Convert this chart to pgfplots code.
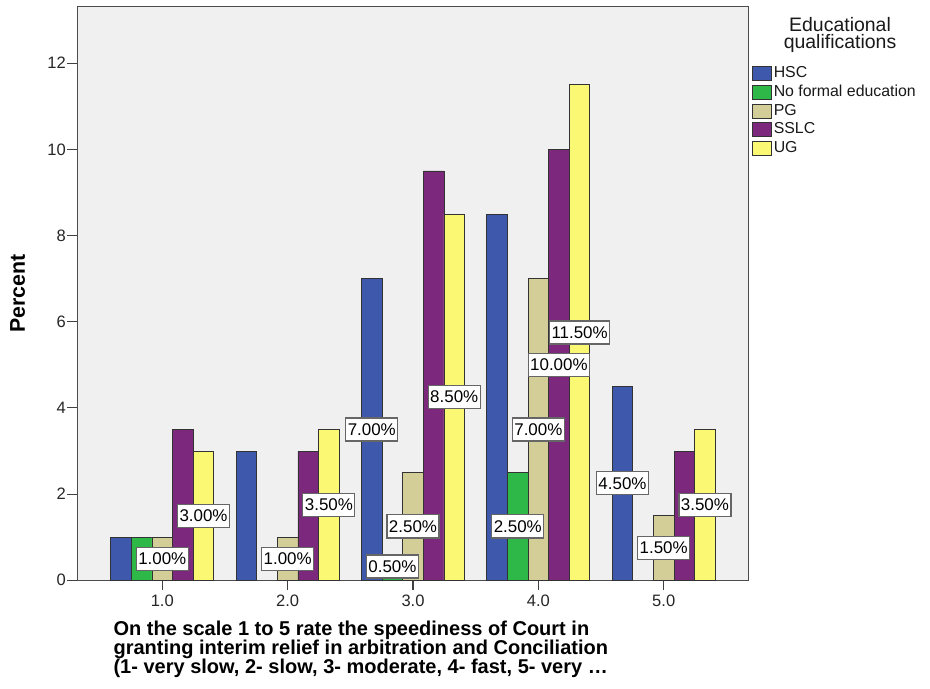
\documentclass[border=0pt]{standalone}
\usepackage{fontspec}
\setmainfont{Liberation Sans}
\usepackage{pgfplots}
\pgfplotsset{compat=1.18}

\definecolor{cHSC}{HTML}{3E58AC}
\definecolor{cNone}{HTML}{2EB848}
\definecolor{cPG}{HTML}{D3CE97}
\definecolor{cSSLC}{HTML}{7C287D}
\definecolor{cUG}{HTML}{FBF873}
\definecolor{bgGray}{HTML}{F0F0F0}

\pgfplotsset{
  spssbar/.style={ybar, bar width=0.1644, bar shift=#1, draw=black!80, line width=0.6pt,
    legend image code/.code={\draw[##1] (0pt,-5.25pt) rectangle (14.25pt,5.25pt);}},
}

\begin{document}
\begin{tikzpicture}
\begin{axis}[
    name=main,
    scale only axis,
    width=503.55pt, height=430.5pt,
    xmin=0.322, xmax=5.678,
    ymin=0, ymax=13.32,
    xtick={1,2,3,4,5},
    xticklabels={1.0,2.0,3.0,4.0,5.0},
    ytick={0,2,4,6,8,10,12},
    /pgf/number format/assume math mode=true,
    tick pos=left,
    tick align=outside,
    major tick length=7.5pt,
    tick style={black!75, line width=0.8pt},
    axis line style={black!70, line width=1pt},
    axis background/.style={fill=bgGray},
    ticklabel style={font=\fontsize{12.4}{14}\selectfont, text=black!85},
    yticklabel style={inner sep=1pt},
    ylabel={\bfseries Percent},
    ylabel style={at={(axis description cs:-0.089,0.5)}, anchor=center, inner sep=0pt,
      font=\fontsize{16}{18}\selectfont},
    xlabel={On the scale 1 to 5 rate the speediness of Court in\\granting interim relief in arbitration and Conciliation\\(1- very slow, 2- slow, 3- moderate, 4- fast, 5- very \dots},
    xlabel style={at={(axis description cs:0,0)}, anchor=north west, xshift=27pt, yshift=-30.5pt,
      align=left, inner sep=0pt, font=\bfseries\fontsize{15}{14.25}\selectfont},
    legend style={at={(1,1)}, anchor=north west, xshift=2.25pt, yshift=-43.5pt,
      draw=none, fill=none, inner sep=0pt, row sep=0pt, column sep=1.5pt,
      font=\fontsize{11.9}{13}\selectfont, text=black!90,
      nodes={inner sep=0pt, text height=10pt, text depth=4pt}},
    legend cell align=left,
]

% HSC
\addplot[spssbar=-0.3288, fill=cHSC]
  coordinates {(1,1) (2,3) (3,7) (4,8.5) (5,4.5)};
\addlegendentry{HSC}

% No formal education
\addplot[spssbar=-0.1644, fill=cNone]
  coordinates {(1,1) (3,0.5) (4,2.5)};
\addlegendentry{No formal education}

% PG
\addplot[spssbar=0, fill=cPG]
  coordinates {(1,1) (2,1) (3,2.5) (4,7) (5,1.5)};
\addlegendentry{PG}

% SSLC
\addplot[spssbar=0.1644, fill=cSSLC]
  coordinates {(1,3.5) (2,3) (3,9.5) (4,10) (5,3)};
\addlegendentry{SSLC}

% UG
\addplot[spssbar=0.3288, fill=cUG]
  coordinates {(1,3) (2,3.5) (3,8.5) (4,11.5) (5,3.5)};
\addlegendentry{UG}

% data labels, set at half the bar height like SPSS does
\addplot[forget plot, draw=none, mark=none, point meta=explicit symbolic,
  nodes near coords={\pgfplotspointmeta\%},
  every node near coord/.append style={anchor=center, draw=black!60, line width=0.9pt,
    fill=white, inner xsep=1.5pt, inner ysep=3.9pt, text height=9pt, text depth=0.5pt,
    font=\fontsize{12.7}{14}\selectfont, text=black}]
  table[meta=lab] {
x     y    lab
1.000 0.50 1.00
1.329 1.50 3.00
2.000 0.50 1.00
2.329 1.75 3.50
2.671 3.50 7.00
2.836 0.32 0.50
3.000 1.25 2.50
3.329 4.25 8.50
3.836 1.25 2.50
4.000 3.50 7.00
4.164 5.00 10.00
4.329 5.75 11.50
4.671 2.25 4.50
5.000 0.75 1.50
5.329 1.75 3.50
};

\end{axis}
\node[align=center, inner sep=0pt, font=\fontsize{14.6}{13.2}\selectfont, text=black!90]
  at ([xshift=68.5pt, yshift=-21.5pt]main.north east) {Educational\\qualifications};
\pgfresetboundingbox
\path (-57.98pt,-80.78pt) rectangle (639.53pt,435.23pt);
\end{tikzpicture}
\end{document}
